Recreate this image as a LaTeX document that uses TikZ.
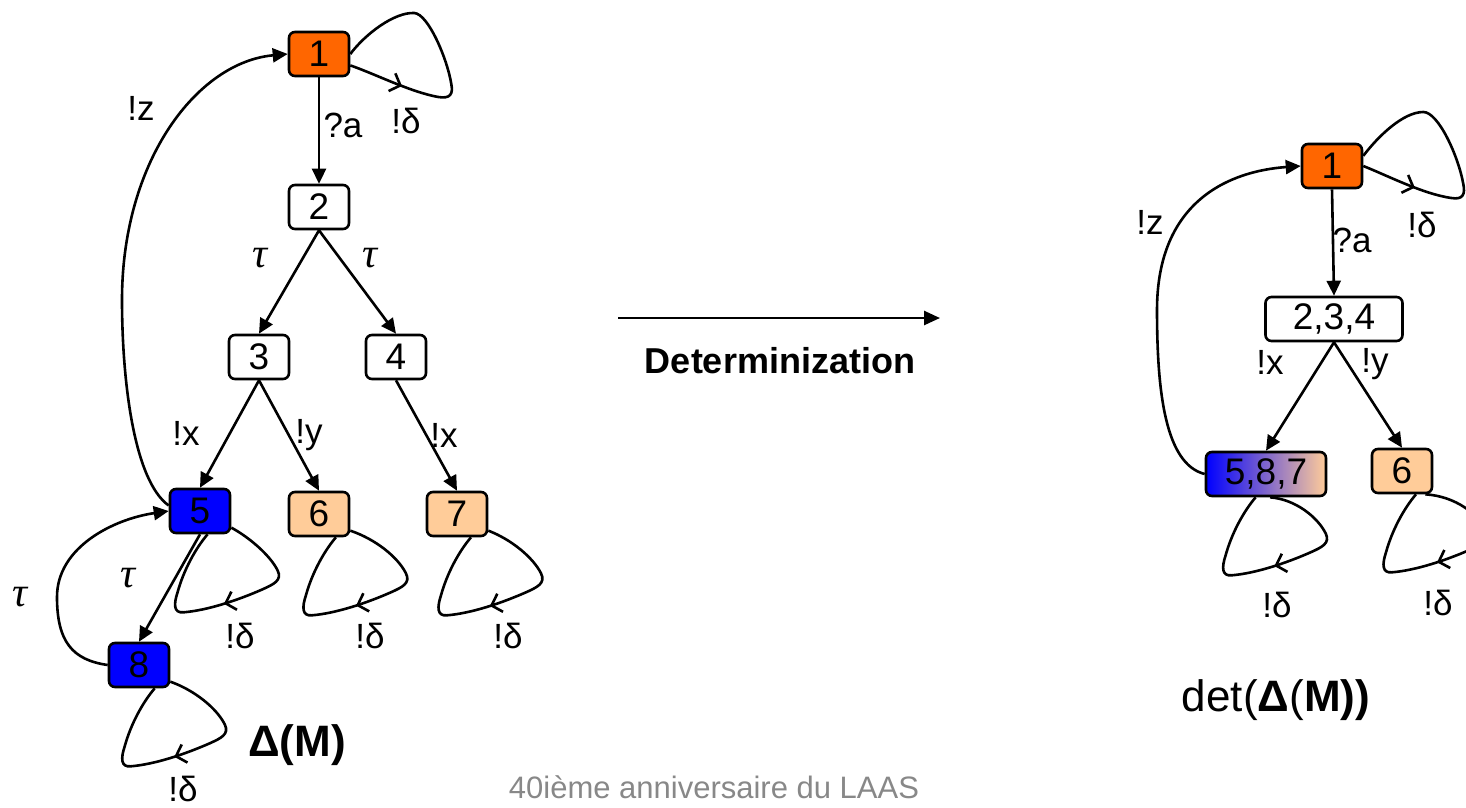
\documentclass[tikz,border=0pt]{standalone}
\usepackage{fontspec}
\setmainfont{Liberation Sans}
\newfontfamily\taufont{Liberation Serif}
\usetikzlibrary{arrows.meta,decorations.markings}
\definecolor{orangeA}{HTML}{FF6600}
\definecolor{blueA}{HTML}{0000FF}
\definecolor{peachA}{HTML}{FFCC99}
\definecolor{midA}{HTML}{C4A0C8}
\definecolor{footA}{HTML}{888888}
\newcommand\tauT{{\fontsize{42}{44}\selectfont\taufont\itshape τ}}
\newcommand\dnloop[2]{%
  \draw[sloop=0.5,shift={(#2)}] (#1) .. controls (40,2) and (62,20) .. (70,36)
    .. controls (75,46) and (66,50) .. (55,55)
    .. controls (30,66) and (0,76) .. (-24,78)
    .. controls (-34,79) and (-34,70) .. (-30,58)
    .. controls (-24,36) and (-12,14) .. (#2);}
\begin{document}
\begin{tikzpicture}[x=1pt,y=-1pt,
  st/.style={draw, line width=2.6pt, rounded corners=6pt, minimum width=60pt,
    minimum height=44pt, inner sep=0pt, font=\fontsize{37}{40}\selectfont},
  ed/.style={line width=2.6pt, -{Triangle[length=15pt,width=14pt]}},
  sloop/.style={line width=2.6pt, postaction={decorate},
    decoration={markings, mark=at position #1 with
      {\arrow{Straight Barb[length=9pt,width=19pt,line width=2.6pt]}}}},
  sloop/.default=0.5,
  lab/.style={inner sep=0pt, font=\fontsize{35}{38}\selectfont},
  taulab/.style={inner sep=0pt}]
\useasboundingbox (0,0) rectangle (1466,807);

% ---------- left automaton Delta(M)
\node[st, fill=orangeA] (a1) at (319,54) {1};
\node[st] (a2) at (319,207) {2};
\node[st] (a3) at (259,357) {3};
\node[st] (a4) at (396,357) {4};
\node[st, fill=blueA] (a5) at (200,511) {5};
\node[st, fill=peachA] (a6) at (319,514) {6};
\node[st, fill=peachA] (a7) at (457,514) {7};
\node[st, fill=blueA] (a8) at (139,665) {8};

\draw[ed] (a1) -- (a2);
\draw[ed] (a2.south) -- (a3.north);
\draw[ed] (a2.south) -- (a4.north);
\draw[ed] (a3.south) -- (a5.north);
\draw[ed] (a3.south) -- (a6.north);
\draw[ed] (a4.south) -- (a7.north);
\draw[ed] (a5.south) -- (a8.north);
\draw[ed] (a8.west) .. controls +(-35,-5) and +(0,45) .. (57,597)
  .. controls +(0,-50) and +(-55,8) .. (a5.west);
\draw[ed] (a5.170) .. controls +(-35,-25) and +(0,80) .. (122,300)
  .. controls +(0,-140) and +(-90,8) .. (a1.west);

\draw[sloop=0.2, shift={(a1.east)}] (a1.-20) .. controls (25,20) and (60,38) .. (88,43)
  .. controls (100,45) and (103,40) .. (101,30)
  .. controls (97,5) and (78,-40) .. (64,-41)
  .. controls (44,-42) and (15,-20) .. (a1.0);
\dnloop{a5.-28}{a5.-72}
\dnloop{a6.-28}{a6.-54}
\dnloop{a7.-28}{a7.-59}
\dnloop{a8.-28}{a8.-56}

\node[lab] (t1) at (343,125) {?a};
\node[lab] (t2) at (406,121) {!δ};
\node[lab] (t3) at (141,108) {!z};
\node[taulab] (t4) at (260,258) {\tauT};
\node[taulab] (t5) at (370,258) {\tauT};
\node[lab] (t6) at (186,433) {!x};
\node[lab] (t7) at (309,435) {!y};
\node[lab] (t8) at (444,435) {!x};
\node[taulab] (t9) at (128,578) {\tauT};
\node[taulab] (t10) at (20,597) {\tauT};
\node[lab] (t11) at (240,636) {!δ};
\node[lab] (t12) at (370,636) {!δ};
\node[lab] (t13) at (508,636) {!δ};
\node[lab] (t14) at (183,789) {!δ};
\node[inner sep=0pt, font=\fontsize{44}{48}\selectfont\bfseries] (tM) at (297,745) {Δ(M)};

% ---------- middle arrow
\coordinate (ds) at (618,318);
\coordinate (de) at (940,318);
\draw[line width=2.6pt, -{Triangle[length=16pt,width=14pt]}] (ds) -- (de);
\node[inner sep=0pt, anchor=base, font=\fontsize{36}{40}\selectfont\bfseries] (dt) at (780,373) {Determinization};

% ---------- right automaton det(Delta(M))
\node[st, fill=orangeA] (b1) at (1332,166) {1};
\node[st, minimum width=137pt] (b2) at (1334,319) {2,3,4};
\node[st, minimum width=120pt, left color=blueA, middle color=midA, right color=peachA] (b5) at (1266,474) {5,8,7};
\node[st, fill=peachA] (b6) at (1402,471) {6};

\draw[ed] (b1.south) -- (b2.north);
\draw[ed] (b2.south) -- (b5.north);
\draw[ed] (b2.south) -- (b6.north);
\draw[ed] (b5.west) .. controls +(-40,-10) and +(0,80) .. (1157,310)
  .. controls +(0,-110) and +(-70,5) .. (b1.west);

\draw[sloop=0.2, shift={(b1.east)}] (b1.0) .. controls (25,10) and (60,28) .. (88,32)
  .. controls (100,34) and (102,28) .. (100,18)
  .. controls (95,-10) and (75,-54) .. (60,-54)
  .. controls (40,-54) and (15,-30) .. (b1.18);
\dnloop{b5.-80}{b5.-114}
\dnloop{b6.-45}{b6.-59}

\node[lab] (u1) at (1150,222) {!z};
\node[lab] (u2) at (1352,240) {?a};
\node[lab] (u3) at (1422,225) {!δ};
\node[lab] (u4) at (1270,362) {!x};
\node[lab] (u5) at (1375,364) {!y};
\node[lab] (u6) at (1277,605) {!δ};
\node[lab] (u7) at (1438,603) {!δ};
\node[inner sep=0pt, font=\fontsize{44}{48}\selectfont] (uM) at (1276,700) {det(\textbf{Δ}(\textbf{M))}};

% ---------- footer
\node[inner sep=0pt, anchor=base, text=footA, font=\fontsize{31}{34}\selectfont] (ft) at (714,798) {40ième anniversaire du LAAS};
\end{tikzpicture}
\end{document}
